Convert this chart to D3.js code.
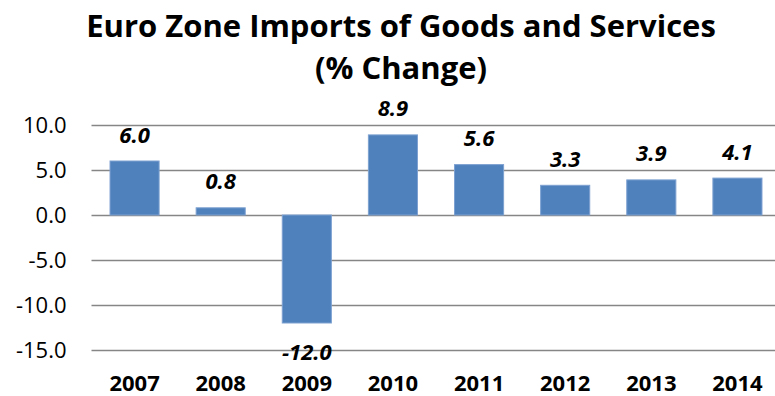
<!DOCTYPE html>
<html>
<head>
<meta charset="utf-8">
<script src="https://cdn.jsdelivr.net/npm/d3@7"></script>
<style>
  html, body { margin: 0; padding: 0; background: #fff; }
  svg { display: block; }
  text { font-family: "Open Sans", Lato, "DejaVu Sans", sans-serif; }
</style>
</head>
<body>
<svg id="chart" width="775" height="396"></svg>
<script>
// Euro zone imports of goods and services, annual % change
const years = ["2007", "2008", "2009", "2010", "2011", "2012", "2013", "2014"];
const changes = [6.0, 0.8, -12.0, 8.9, 5.6, 3.3, 3.9, 4.1];
const yTicks = [10, 5, 0, -5, -10, -15];
const titleLines = ["Euro Zone Imports of Goods and Services", "(% Change)"];

const svg = d3.select("#chart");
const plot = { left: 91.5, right: 780.5, top: 125, bottom: 350 };
const fmt = d => d3.format(".1f")(d).replace("\u2212", "-");

const x = d3.scaleBand()
  .domain(years)
  .range([plot.left, plot.right])
  .paddingInner(0.43)
  .paddingOuter(0.215);

const y = d3.scaleLinear()
  .domain([-15, 10])
  .range([plot.bottom, plot.top]);

// Title
svg.append("g")
  .selectAll("text")
  .data(titleLines)
  .join("text")
  .attr("x", 401)
  .attr("y", (d, i) => 37 + i * 42)
  .attr("text-anchor", "middle")
  .attr("font-size", 31)
  .attr("font-weight", "bold")
  .attr("fill", "#000")
  .text(d => d);

// Horizontal gridlines (zero line included) with value labels
const yAxis = d3.axisLeft(y)
  .tickValues(yTicks)
  .tickSize(-(plot.right - plot.left))
  .tickPadding(25)
  .tickFormat(fmt);

const gy = svg.append("g")
  .attr("transform", `translate(${plot.left},0)`)
  .call(yAxis);
gy.select(".domain").remove();
gy.selectAll(".tick line")
  .attr("stroke", "#868686")
  .attr("stroke-width", 1.5);
gy.selectAll(".tick text")
  .attr("font-size", 22)
  .attr("fill", "#000")
  .attr("font-family", "'Open Sans', Lato, sans-serif")
  .attr("dy", "0.36em");

// Bars
svg.append("g")
  .selectAll("rect")
  .data(changes)
  .join("rect")
  .attr("x", (d, i) => x(years[i]))
  .attr("width", x.bandwidth())
  .attr("y", d => y(Math.max(0, d)))
  .attr("height", d => Math.abs(y(d) - y(0)))
  .attr("fill", "#4F81BD")
  .attr("stroke", "#7DA1D1")
  .attr("stroke-width", 1);

// Value labels
svg.append("g")
  .selectAll("text")
  .data(changes)
  .join("text")
  .attr("x", (d, i) => x(years[i]) + x.bandwidth() / 2)
  .attr("y", d => d >= 0 ? y(d) - 18.5 : y(d) + 37)
  .attr("text-anchor", "middle")
  .attr("font-size", 22)
  .attr("font-weight", "bold")
  .attr("font-style", "italic")
  .attr("fill", "#000")
  .text(fmt);

// Category labels
svg.append("g")
  .selectAll("text")
  .data(years)
  .join("text")
  .attr("x", d => x(d) + x.bandwidth() / 2)
  .attr("y", 391)
  .attr("text-anchor", "middle")
  .attr("font-size", 22)
  .attr("font-weight", "bold")
  .attr("fill", "#000")
  .text(d => d);
</script>
</body>
</html>
